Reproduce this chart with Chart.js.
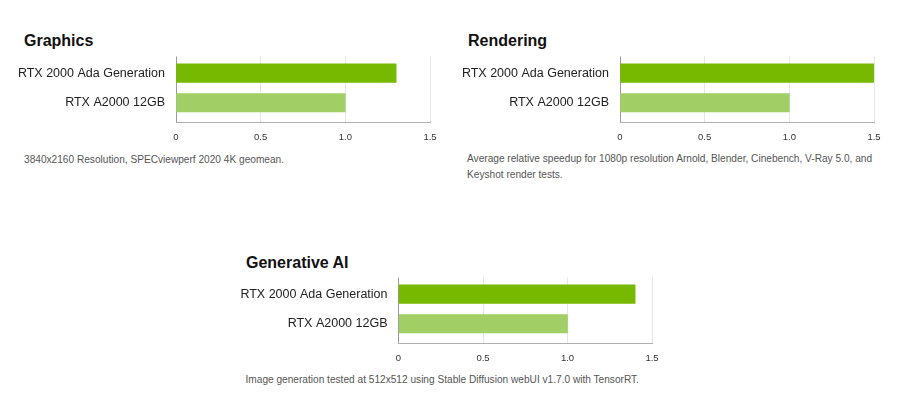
<!DOCTYPE html>
<html><head><meta charset="utf-8">
<script src="https://cdn.jsdelivr.net/npm/chart.js@4.4.1/dist/chart.umd.min.js"></script>
<style>
html,body{margin:0;padding:0;background:#fff;}
body{width:900px;height:416px;position:relative;overflow:hidden;font-family:"Liberation Sans",Arial,sans-serif;}
.t{position:absolute;font-weight:bold;font-size:16px;line-height:20px;color:#111;white-space:nowrap;}
.n{position:absolute;font-size:10.15px;line-height:16px;color:#555;white-space:nowrap;}
canvas{position:absolute;}
</style></head><body>
<div class="t" style="left:24px;top:31.2px">Graphics</div>
<div class="t" style="left:468px;top:31.2px">Rendering</div>
<div class="t" style="left:246px;top:252.8px">Generative AI</div>
<div class="n" style="left:24px;top:151.7px">3840x2160 Resolution, SPECviewperf 2020 4K geomean.</div>
<div class="n" style="left:467px;top:151.4px">Average relative speedup for 1080p resolution Arnold, Blender, Cinebench, V-Ray 5.0, and<br>Keyshot render tests.</div>
<div class="n" style="left:245.5px;top:372.4px">Image generation tested at 512x512 using Stable Diffusion webUI v1.7.0 with TensorRT.</div>
<canvas id="c1" width="450" height="100" style="left:0px;top:50px"></canvas>
<canvas id="c2" width="450" height="100" style="left:450px;top:50px"></canvas>
<canvas id="c3" width="460" height="100" style="left:220px;top:271px"></canvas>
<script>
const categories = ['RTX 2000 Ada Generation', 'RTX A2000 12GB'];
const graphicsValues = [1.30, 1.00];
const renderingValues = [1.50, 1.00];
const generativeValues = [1.40, 1.00];
const xTickLabels = ['0', '0.5', '1.0', '1.5'];
const barColors = ['#76b900', '#a1cf66'];

const FONT = '"Liberation Sans", Arial, sans-serif';

function makeChart(id, values, yWidth, padRight) {
  new Chart(document.getElementById(id), {
    type: 'bar',
    data: {
      datasets: [{
        data: categories.map((c, i) => ({ x: values[i], y: i })),
        backgroundColor: barColors,
        borderWidth: 0,
        barThickness: 18.5
      }]
    },
    options: {
      indexAxis: 'y',
      responsive: false,
      animation: false,
      layout: { padding: { top: 6.5, right: padRight, bottom: 0, left: 0 } },
      plugins: { legend: { display: false }, tooltip: { enabled: false }, title: { display: false } },
      scales: {
        x: {
          type: 'linear',
          min: 0, max: 1.5,
          afterFit: s => { s.height = 28; s.paddingLeft = 0; s.paddingRight = 0; },
          afterBuildTicks: s => { s.ticks = xTickLabels.map(t => ({ value: parseFloat(t) })); },
          ticks: {
            padding: 10,
            color: '#333',
            font: { family: FONT, size: 9.5 },
            callback: (v, i) => xTickLabels[i],
            maxRotation: 0
          },
          grid: {
            drawTicks: false,
            color: ctx => (ctx.tick && ctx.tick.value === 0) ? '#9a9a9a' : '#e6e6e6',
            lineWidth: 1
          },
          border: { display: true, color: '#b0b0b0', width: 1 }
        },
        y: {
          type: 'linear',
          reverse: true,
          offset: false,
          grace: 0,
          min: -0.56, max: 1.65,
          afterFit: s => { s.width = yWidth; s.paddingTop = 0; s.paddingBottom = 0; },
          afterBuildTicks: s => { s.ticks = categories.map((c, i) => ({ value: i })); },
          ticks: {
            padding: 11,
            color: '#222',
            font: { family: FONT, size: 12.5 },
            callback: v => categories[v],
            autoSkip: false
          },
          grid: { display: false, drawTicks: false, offset: false },
          border: { display: false }
        }
      }
    }
  });
}

makeChart('c1', graphicsValues, 176, 20);
makeChart('c2', renderingValues, 170, 26);
makeChart('c3', generativeValues, 178.5, 28);
</script>
</body></html>
